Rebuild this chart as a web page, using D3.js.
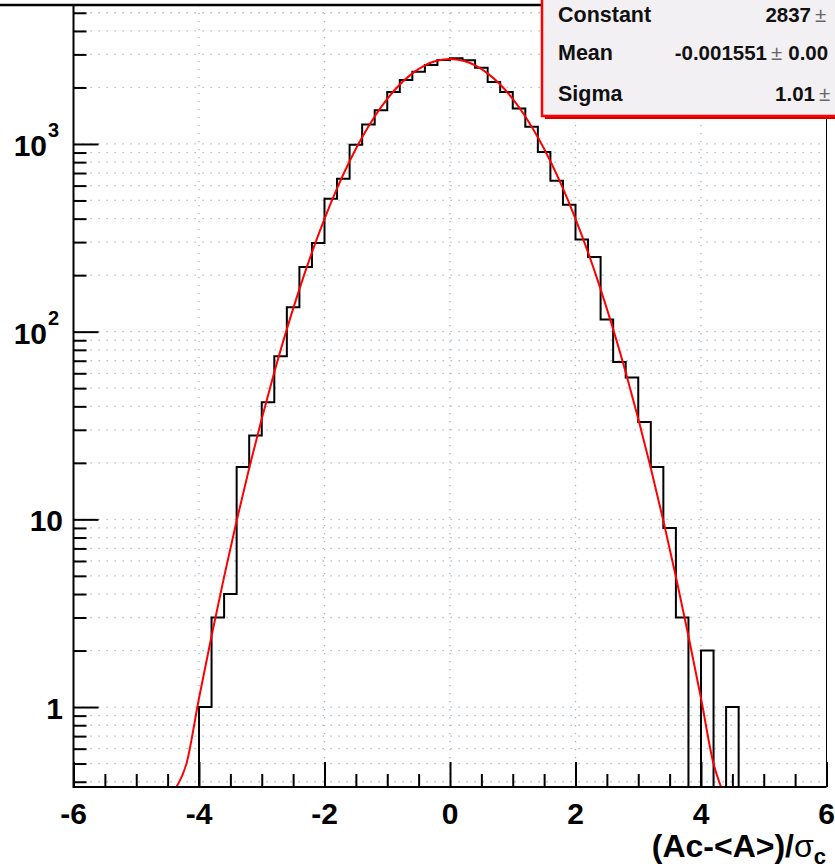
<!DOCTYPE html>
<html>
<head>
<meta charset="utf-8">
<script src="https://cdn.jsdelivr.net/npm/d3@7"></script>
<style>
  html, body { margin: 0; padding: 0; background: #ffffff; }
  svg { display: block; }
  text { font-family: "Liberation Sans", Arial, Helvetica, sans-serif; }
</style>
</head>
<body>
<svg id="chart" width="835" height="868"></svg>
<script>
// ---------- data ----------
const binStart = -4.0;
const binWidth = 0.2;
const counts = [1, 3, 4, 19, 28, 42, 74, 135, 221, 297, 510, 652, 990, 1271, 1514,
  1890, 2189, 2427, 2632, 2800, 2860, 2790, 2548, 2137, 1890, 1546, 1235, 905, 636,
  474, 310, 250, 116, 69, 57, 33, 19, 9, 3, 0, 2, 0, 1];

// red fit curve (Gaussian fit)
const fitX = [-4.36, -4.2, -4.0, -3.8, -3.6, -3.4, -3.2, -3.0, -2.8, -2.6, -2.4, -2.2,
  -2.0, -1.8, -1.6, -1.4, -1.2, -1.0, -0.8, -0.6, -0.4, -0.2, 0, 0.2, 0.4, 0.6, 0.8,
  1.0, 1.2, 1.4, 1.6, 1.8, 2.0, 2.2, 2.4, 2.6, 2.8, 3.0, 3.2, 3.4, 3.6, 3.8, 4.0, 4.2, 4.32];
const fitY = [0.255, 0.4985, 1.114, 2.39, 4.94, 9.82, 18.75, 34.4, 60.8, 103.2, 168.5, 264.6,
  399.4, 580, 809, 1085, 1401, 1738, 2073, 2378, 2623, 2782, 2837, 2782, 2623, 2378, 2073,
  1738, 1401, 1085, 809, 580, 399.4, 264.6, 168.5, 103.2, 60.8, 34.4, 18.75, 9.82, 4.94,
  2.39, 1.114, 0.4985, 0.302];

const xDomain = [-6, 6];
const yDomain = [0.375, 5500];
const xMajorTicks = [-6, -4, -2, 0, 2, 4, 6];
const xTickLabels = ["-6", "-4", "-2", "0", "2", "4", "6"];
const yMajorTicks = [1, 10, 100, 1000];
const yTickLabels = [["1", ""], ["10", ""], ["10", "2"], ["10", "3"]];
const xTitle = ["(Ac-<A>)/", "\u03c3", "c"];

const statNames = ["Constant", "Mean", "Sigma"];
const statValues = ["2837", "-0.001551", "1.01"];
const statErrors = ["", "0.00", ""];

// ---------- layout ----------
const svg = d3.select("#chart");
const L = 73.5, R = 826.5, T = 5, B = 787;
const x = d3.scaleLinear().domain(xDomain).range([L, R]);
const y = d3.scaleLog().domain(yDomain).range([B, T]);

svg.append("rect").attr("width", 835).attr("height", 868).attr("fill", "#ffffff");

svg.append("defs").append("clipPath").attr("id", "plotclip")
  .append("rect").attr("x", L).attr("y", T).attr("width", R - L).attr("height", B - T);

// ---------- grid ----------
const gridColor = "#a3b5c4";
const yAllTicks = [];
for (let d = -1; d <= 3; d++) {
  for (let m = 1; m <= 9; m++) {
    const v = m * Math.pow(10, d);
    if (v >= yDomain[0] && v <= yDomain[1]) yAllTicks.push(v);
  }
}
const grid = svg.append("g");
grid.selectAll("line.hg").data(yAllTicks).enter().append("line")
  .attr("x1", L + 1).attr("x2", R)
  .attr("y1", d => y(d)).attr("y2", d => y(d))
  .attr("stroke", gridColor).attr("stroke-width", 1.3)
  .attr("stroke-dasharray", "1.3,6.7");
grid.selectAll("line.vg").data(xMajorTicks.filter(d => d > xDomain[0] && d < xDomain[1])).enter().append("line")
  .attr("x1", d => x(d)).attr("x2", d => x(d))
  .attr("y1", T).attr("y2", B)
  .attr("stroke", gridColor).attr("stroke-width", 1.3)
  .attr("stroke-dasharray", "1.3,6.7");

// ---------- axes ----------
const xMinorTicks = d3.range(-6, 6.001, 0.5).filter(v => Math.abs(v % 2) > 1e-6);
const xAxisMajor = d3.axisTop(x).tickValues(xMajorTicks).tickSize(25).tickFormat("");
const xAxisMinor = d3.axisTop(x).tickValues(xMinorTicks).tickSize(13).tickFormat("");
const yAxisMajor = d3.axisRight(y).tickValues(yMajorTicks).tickSize(25).tickFormat("");
const yAxisMinor = d3.axisRight(y).tickValues(yAllTicks.filter(v => yMajorTicks.indexOf(v) < 0)).tickSize(13).tickFormat("");

function styleAxis(g) {
  g.select(".domain").remove();
  g.selectAll(".tick line").attr("stroke", "#000").attr("stroke-width", 2);
}
svg.append("g").attr("transform", `translate(0,${B})`).call(xAxisMajor).call(styleAxis);
svg.append("g").attr("transform", `translate(0,${B})`).call(xAxisMinor).call(styleAxis);
svg.append("g").attr("transform", `translate(${L},0)`).call(yAxisMajor).call(styleAxis);
svg.append("g").attr("transform", `translate(${L},0)`).call(yAxisMinor).call(styleAxis);

// ---------- histogram ----------
const stepPts = [[x(xDomain[0]), B]];
let prevY = B;
counts.forEach((c, i) => {
  const x0 = x(binStart + i * binWidth), x1 = x(binStart + (i + 1) * binWidth);
  const yy = c > 0 ? y(c) : B;
  stepPts.push([x0, prevY]);
  stepPts.push([x0, yy]);
  stepPts.push([x1, yy]);
  prevY = yy;
});
stepPts.push([x(binStart + counts.length * binWidth), prevY]);
stepPts.push([x(binStart + counts.length * binWidth), B]);
stepPts.push([x(xDomain[1]), B]);

svg.append("path")
  .attr("d", d3.line()(stepPts))
  .attr("fill", "none").attr("stroke", "#000").attr("stroke-width", 2)
  .attr("clip-path", "url(#plotclip)");

// ---------- fit ----------
const fitLine = d3.line()
  .x((d, i) => x(fitX[i]))
  .y(d => y(Math.max(d, yDomain[0])))
  .curve(d3.curveMonotoneX);
svg.append("path")
  .attr("d", fitLine(fitY))
  .attr("fill", "none").attr("stroke", "#ff0000").attr("stroke-width", 2)
  .attr("clip-path", "url(#plotclip)");

// ---------- frame ----------
svg.append("line").attr("x1", 0).attr("x2", 835).attr("y1", T).attr("y2", T)
  .attr("stroke", "#000").attr("stroke-width", 2.5);
svg.append("line").attr("x1", L).attr("x2", L).attr("y1", T).attr("y2", B + 1)
  .attr("stroke", "#000").attr("stroke-width", 2);
svg.append("line").attr("x1", L).attr("x2", R).attr("y1", B).attr("y2", B)
  .attr("stroke", "#000").attr("stroke-width", 2);
svg.append("line").attr("x1", R).attr("x2", R).attr("y1", T).attr("y2", B)
  .attr("stroke", "#000").attr("stroke-width", 1);

// ---------- tick labels ----------
svg.append("g").selectAll("text").data(xMajorTicks).enter().append("text")
  .attr("x", d => x(d)).attr("y", 824)
  .attr("text-anchor", "middle")
  .attr("font-size", 30).attr("font-weight", "bold").attr("fill", "#000")
  .text((d, i) => xTickLabels[i]);

const yl = svg.append("g");
yMajorTicks.forEach((v, i) => {
  const lab = yTickLabels[i];
  const t = yl.append("text")
    .attr("y", y(v) + 12)
    .attr("font-size", 30).attr("font-weight", "bold").attr("fill", "#000");
  if (lab[1] === "") {
    t.attr("x", 63).attr("text-anchor", "end").text(lab[0]);
  } else {
    t.attr("x", 47).attr("text-anchor", "end").text(lab[0]);
    yl.append("text").attr("x", 48).attr("y", y(v) - 7)
      .attr("font-size", 20).attr("font-weight", "bold").attr("fill", "#000")
      .text(lab[1]);
  }
});

// ---------- x title ----------
const xt = svg.append("text")
  .attr("x", 826).attr("y", 857).attr("text-anchor", "end")
  .attr("font-size", 32).attr("font-weight", "bold").attr("fill", "#000");
xt.append("tspan").text(xTitle[0]);
xt.append("tspan").attr("font-weight", "normal").text(xTitle[1]);
xt.append("tspan").attr("font-size", 22).attr("dy", 7).text(xTitle[2]);

// ---------- stats box ----------
const sb = svg.append("g");
sb.append("rect").attr("x", 545).attr("y", -10).attr("width", 310).attr("height", 129)
  .attr("fill", "#cc0000");
sb.append("rect").attr("x", 542).attr("y", -10).attr("width", 310).attr("height", 126)
  .attr("fill", "#f3f0f4").attr("stroke", "#ff0000").attr("stroke-width", 2.5);
const rowsY = [22, 60, 101];
statNames.forEach((n, i) => {
  sb.append("text").attr("x", 558).attr("y", rowsY[i])
    .attr("font-size", 21.5).attr("font-weight", "bold").attr("fill", "#111").text(n);
});
const valEnd = [811, 767, 815];
statValues.forEach((v, i) => {
  sb.append("text").attr("x", valEnd[i]).attr("y", rowsY[i]).attr("text-anchor", "end")
    .attr("font-size", 20.5).attr("font-weight", "bold").attr("fill", "#111").text(v);
  const e = sb.append("text").attr("x", valEnd[i] + 4).attr("y", rowsY[i])
    .attr("font-size", 20.5).attr("fill", "#111");
  e.append("tspan").attr("fill", "#666").attr("font-weight", "normal").text("\u00b1");
  if (statErrors[i] !== "") {
    e.append("tspan").attr("font-weight", "bold").attr("dx", 6).text(statErrors[i]);
  }
});
</script>
</body>
</html>
